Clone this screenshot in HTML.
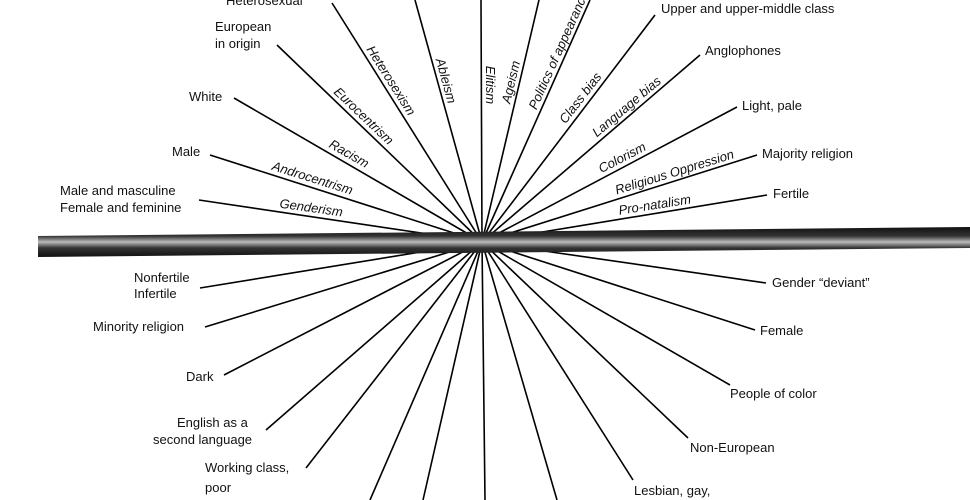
<!DOCTYPE html>
<html><head><meta charset="utf-8"><style>
html,body{margin:0;padding:0;background:#fff;}
svg{display:block;}
text{font-family:"Liberation Sans",sans-serif;font-size:13px;fill:#111;}
.i{font-style:italic;}
</style></head><body>
<svg width="970" height="500" viewBox="0 0 970 500" xmlns="http://www.w3.org/2000/svg">
<defs>
<linearGradient id="g" x1="0" y1="0" x2="0" y2="1">
<stop offset="0" stop-color="#111"/><stop offset="0.3" stop-color="#333"/><stop offset="0.5" stop-color="#bbb"/><stop offset="0.7" stop-color="#333"/><stop offset="1" stop-color="#111"/>
</linearGradient>
</defs>
<g stroke="#000" stroke-width="1.6" fill="none">
<line x1="482" y1="242" x2="199" y2="200"/>
<line x1="482" y1="242" x2="210" y2="155"/>
<line x1="482" y1="242" x2="234" y2="98"/>
<line x1="482" y1="242" x2="277" y2="45"/>
<line x1="482" y1="242" x2="332" y2="3"/>
<line x1="482" y1="242" x2="415" y2="0"/>
<line x1="482" y1="242" x2="481" y2="0"/>
<line x1="482" y1="242" x2="539" y2="0"/>
<line x1="482" y1="242" x2="590" y2="0"/>
<line x1="482" y1="242" x2="655" y2="15"/>
<line x1="482" y1="242" x2="700" y2="55"/>
<line x1="482" y1="242" x2="737" y2="107"/>
<line x1="482" y1="242" x2="757" y2="155"/>
<line x1="482" y1="242" x2="767" y2="195"/>
<line x1="482" y1="242" x2="200" y2="288"/>
<line x1="482" y1="242" x2="205" y2="327"/>
<line x1="482" y1="242" x2="224" y2="375"/>
<line x1="482" y1="242" x2="266" y2="430"/>
<line x1="482" y1="242" x2="306" y2="468"/>
<line x1="482" y1="242" x2="370" y2="500"/>
<line x1="482" y1="242" x2="423" y2="500"/>
<line x1="482" y1="242" x2="485" y2="500"/>
<line x1="482" y1="242" x2="557" y2="500"/>
<line x1="482" y1="242" x2="633" y2="480"/>
<line x1="482" y1="242" x2="688" y2="438"/>
<line x1="482" y1="242" x2="730" y2="385"/>
<line x1="482" y1="242" x2="755" y2="330"/>
<line x1="482" y1="242" x2="766" y2="283"/>
</g>
<polygon points="38,236 970,227 970,248 38,257" fill="url(#g)"/>
<!-- rotated line labels -->
<g class="i">
<text class="i" text-anchor="middle" y="-4" transform="translate(310,216) rotate(8)">Genderism</text>
<text class="i" text-anchor="middle" y="-4" transform="translate(310,186) rotate(17.4)">Androcentrism</text>
<text class="i" text-anchor="middle" y="-4" transform="translate(345,161) rotate(29.8)">Racism</text>
<text class="i" text-anchor="middle" y="-4" transform="translate(358,122) rotate(43.6)">Eurocentrism</text>
<text class="i" text-anchor="middle" y="-4" transform="translate(384,85) rotate(57.7)">Heterosexism</text>
<text class="i" text-anchor="middle" y="-4" transform="translate(438,83) rotate(74.4)">Ableism</text>
<text class="i" text-anchor="middle" y="-4" transform="translate(482,85) rotate(90)">Elitism</text>
<text class="i" text-anchor="middle" y="-4" transform="translate(519,84) rotate(-76.6)">Ageism</text>
<text class="i" text-anchor="start" y="-4" transform="translate(540,112) rotate(-65.8)">Politics of appearance</text>
<text class="i" text-anchor="middle" y="-4" transform="translate(587,103) rotate(-52.4)">Class bias</text>
<text class="i" text-anchor="middle" y="-4" transform="translate(632,113) rotate(-40.3)">Language bias</text>
<text class="i" text-anchor="middle" y="-4" transform="translate(626,165) rotate(-27.5)">Colorism</text>
<text class="i" text-anchor="middle" y="-4" transform="translate(677,180) rotate(-17.2)">Religious Oppression</text>
<text class="i" text-anchor="middle" y="-4" transform="translate(656,213) rotate(-9)">Pro-natalism</text>
</g>
<!-- endpoint labels -->
<text x="226" y="5">Heterosexual</text>
<text x="215" y="31">European</text>
<text x="215" y="48">in origin</text>
<text x="189" y="101">White</text>
<text x="172" y="156">Male</text>
<text x="60" y="195">Male and masculine</text>
<text x="60" y="212">Female and feminine</text>
<text x="661" y="13">Upper and upper-middle class</text>
<text x="705" y="55">Anglophones</text>
<text x="742" y="110">Light, pale</text>
<text x="762" y="158">Majority religion</text>
<text x="773" y="198">Fertile</text>
<text x="134" y="282">Nonfertile</text>
<text x="134" y="298">Infertile</text>
<text x="93" y="331">Minority religion</text>
<text x="186" y="381">Dark</text>
<text x="177" y="427">English as a</text>
<text x="153" y="444">second language</text>
<text x="205" y="472">Working class,</text>
<text x="205" y="492">poor</text>
<text x="772" y="287">Gender “deviant”</text>
<text x="760" y="335">Female</text>
<text x="730" y="398">People of color</text>
<text x="690" y="452">Non-European</text>
<text x="634" y="495">Lesbian, gay,</text>
</svg>
</body></html>
